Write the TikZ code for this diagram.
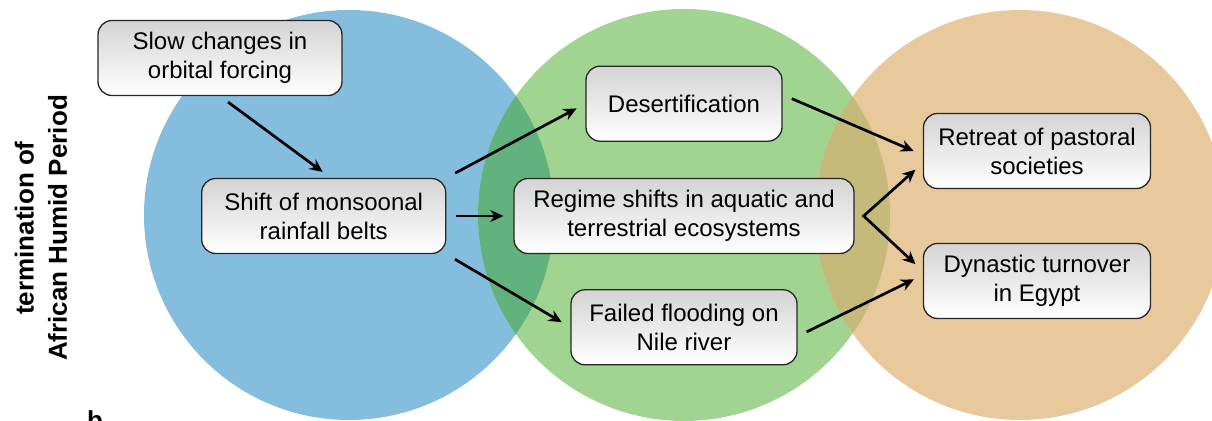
\documentclass[tikz,border=0pt]{standalone}
\usepackage{fontspec}
\setmainfont{Liberation Sans}
\usetikzlibrary{arrows.meta, positioning}

\definecolor{circblue}{RGB}{133,189,223}
\definecolor{circgreen}{RGB}{162,212,145}
\definecolor{circorange}{RGB}{232,201,156}
\definecolor{bluegreen}{RGB}{98,178,126}
\definecolor{greenorange}{RGB}{198,186,122}

\begin{document}
\begin{tikzpicture}[
    x=0.5pt, y=-0.5pt,
    block/.style={rectangle, draw=black!85, line width=0.65pt, top color=black!17, bottom color=white, rounded corners=7pt, align=center, minimum height=37.5pt, inner sep=2pt, font=\fontsize{12}{14.5}\selectfont},
    arrow/.style={-{Stealth[length=6.5pt, width=6pt]}, line width=1.35pt, shorten <=5pt, shorten >=5pt},
    twoarrow/.style={arrow, {Stealth[length=6.5pt, width=6pt]}-{Stealth[length=6.5pt, width=6pt]}}
]
    \useasboundingbox (0,0) rectangle (1212,421);

    \fill[circblue] (349,215) circle[radius=102.5pt];
    \fill[circgreen] (684,215) circle[radius=103pt];
    \fill[circorange] (1020,215) circle[radius=102.5pt];
    \begin{scope}
        \clip (349,215) circle[radius=102.5pt];
        \fill[bluegreen] (684,215) circle[radius=103pt];
    \end{scope}
    \begin{scope}
        \clip (684,215) circle[radius=103pt];
        \fill[greenorange] (1020,215) circle[radius=102.5pt];
    \end{scope}

    \node[rotate=90, align=center, font=\bfseries\fontsize{13}{16.7}\selectfont] (title) at (41,228) {termination of\\African Humid Period};
    \node[anchor=base west, font=\bfseries\fontsize{13}{16}\selectfont] (panel) at (80,430) {b};

    \node[block, minimum width=170pt] (regime) at (684,216) {Regime shifts in aquatic and\\terrestrial ecosystems};
    \node[block, minimum width=98pt, above=18pt of regime] (desert) {Desertification};
    \node[block, minimum width=113pt, below=17.5pt of regime] (flood) {Failed flooding on\\Nile river};
    \node[block, minimum width=122pt, left=33.5pt of regime] (shift) {Shift of monsoonal\\rainfall belts};
    \node[block, minimum width=122pt] (orbit) at (220,58) {Slow changes in\\orbital forcing};
    \node[block, minimum width=113.5pt] (retreat) at (1037,151) {Retreat of pastoral\\societies};
    \node[block, minimum width=113.5pt] (egypt) at (1037,281) {Dynastic turnover\\in Egypt};
    \coordinate (fork) at ([xshift=4.5pt]regime.east);

    \draw[arrow] (orbit.south) -- ([xshift=3.5pt]shift.north);
    \draw[arrow] (shift.north east) -- (desert.west);
    \draw[arrow] (shift.east) -- (regime.west);
    \draw[arrow] (shift.south east) -- (flood.west);
    \draw[arrow] ([yshift=4.5pt]desert.east) -- ([yshift=-2pt]retreat.west);
    \draw[twoarrow] ([yshift=-6pt]retreat.west) -- (fork) -- ([yshift=5pt]egypt.west);
    \draw[arrow] ([yshift=-4.5pt]flood.east) -- ([yshift=3pt]egypt.west);
\end{tikzpicture}
\end{document}
